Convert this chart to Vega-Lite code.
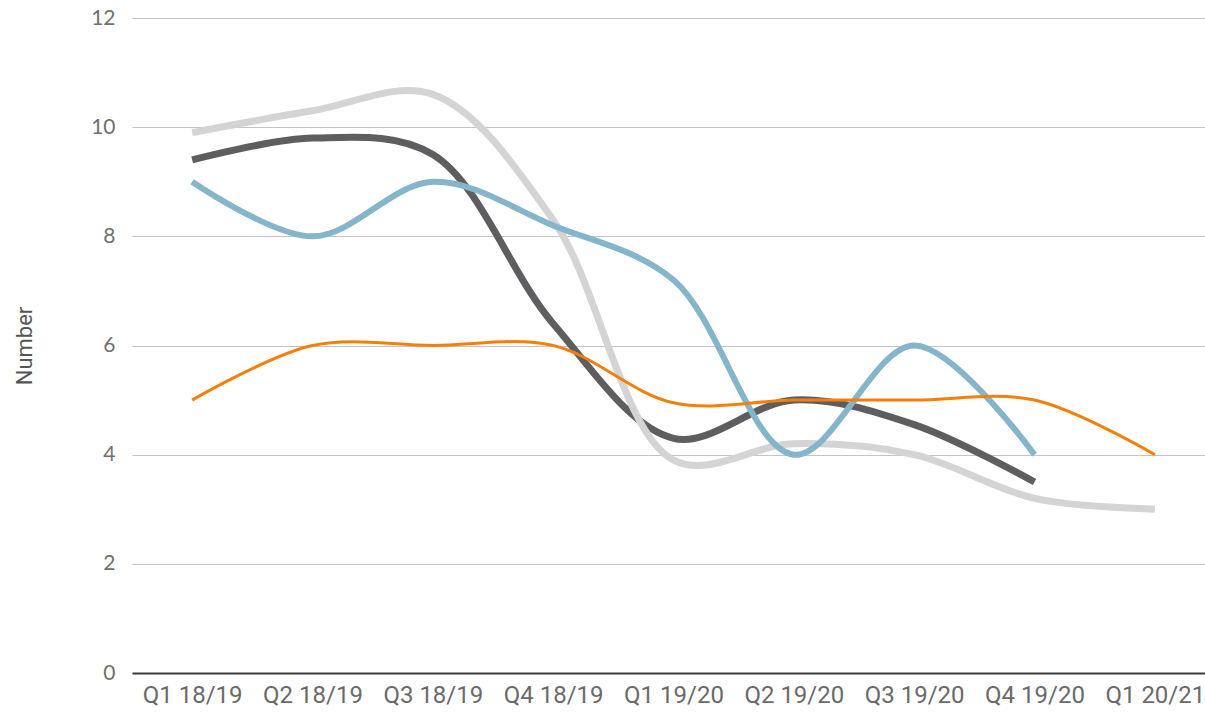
{
  "$schema": "https://vega.github.io/schema/vega-lite/v6.json",
  "autosize": "none",
  "padding": {"left": 132, "top": 18, "right": 0, "bottom": 46},
  "width": 1083,
  "height": 655,
  "background": "white",
  "config": {
    "view": {"stroke": null},
    "font": "Roboto"
  },
  "data": {
    "values": [
      {"quarter": "Q1 18/19", "series": "Series 1", "value": 9.4},
      {"quarter": "Q2 18/19", "series": "Series 1", "value": 9.8},
      {"quarter": "Q3 18/19", "series": "Series 1", "value": 9.5},
      {"quarter": "Q4 18/19", "series": "Series 1", "value": 6.4},
      {"quarter": "Q1 19/20", "series": "Series 1", "value": 4.3},
      {"quarter": "Q2 19/20", "series": "Series 1", "value": 5.0},
      {"quarter": "Q3 19/20", "series": "Series 1", "value": 4.55},
      {"quarter": "Q4 19/20", "series": "Series 1", "value": 3.5},

      {"quarter": "Q1 18/19", "series": "Series 2", "value": 9.9},
      {"quarter": "Q2 18/19", "series": "Series 2", "value": 10.3},
      {"quarter": "Q3 18/19", "series": "Series 2", "value": 10.6},
      {"quarter": "Q4 18/19", "series": "Series 2", "value": 8.3},
      {"quarter": "Q1 19/20", "series": "Series 2", "value": 3.9},
      {"quarter": "Q2 19/20", "series": "Series 2", "value": 4.2},
      {"quarter": "Q3 19/20", "series": "Series 2", "value": 4.0},
      {"quarter": "Q4 19/20", "series": "Series 2", "value": 3.2},
      {"quarter": "Q1 20/21", "series": "Series 2", "value": 3.0},

      {"quarter": "Q1 18/19", "series": "Series 3", "value": 9.0},
      {"quarter": "Q2 18/19", "series": "Series 3", "value": 8.0},
      {"quarter": "Q3 18/19", "series": "Series 3", "value": 9.0},
      {"quarter": "Q4 18/19", "series": "Series 3", "value": 8.2},
      {"quarter": "Q1 19/20", "series": "Series 3", "value": 7.2},
      {"quarter": "Q2 19/20", "series": "Series 3", "value": 4.0},
      {"quarter": "Q3 19/20", "series": "Series 3", "value": 6.0},
      {"quarter": "Q4 19/20", "series": "Series 3", "value": 4.0},

      {"quarter": "Q1 18/19", "series": "Series 4", "value": 5.0},
      {"quarter": "Q2 18/19", "series": "Series 4", "value": 6.0},
      {"quarter": "Q3 18/19", "series": "Series 4", "value": 6.0},
      {"quarter": "Q4 18/19", "series": "Series 4", "value": 6.0},
      {"quarter": "Q1 19/20", "series": "Series 4", "value": 4.95},
      {"quarter": "Q2 19/20", "series": "Series 4", "value": 5.0},
      {"quarter": "Q3 19/20", "series": "Series 4", "value": 5.0},
      {"quarter": "Q4 19/20", "series": "Series 4", "value": 5.0},
      {"quarter": "Q1 20/21", "series": "Series 4", "value": 4.0}
    ]
  },
  "encoding": {
    "x": {
      "field": "quarter",
      "type": "ordinal",
      "sort": null,
      "scale": {"type": "point", "padding": 0.5},
      "axis": {
        "title": null,
        "domain": true,
        "domainColor": "#3a3a3a",
        "domainWidth": 2,
        "ticks": false,
        "grid": false,
        "labelAngle": 0,
        "labelFontSize": 24,
        "labelColor": "#6a6a6a",
        "labelPadding": 10,
        "labelFont": "Roboto"
      }
    },
    "y": {
      "field": "value",
      "type": "quantitative",
      "scale": {"domain": [0, 12], "nice": false, "zero": true},
      "axis": {
        "title": "Number",
        "titleFontSize": 22,
        "titleFontWeight": "normal",
        "titleColor": "#555555",
        "titleFont": "Roboto",
        "titlePadding": 54,
        "values": [0, 2, 4, 6, 8, 10, 12],
        "domain": false,
        "ticks": false,
        "grid": true,
        "gridColor": "#c4c4c4",
        "gridWidth": 1,
        "labelFontSize": 21,
        "labelColor": "#707070",
        "labelPadding": 17,
        "labelFont": "Lato"
      }
    }
  },
  "layer": [
    {
      "transform": [{"filter": "datum.series === 'Series 1'"}],
      "mark": {"type": "line", "interpolate": "catmull-rom", "stroke": "#5e5e60", "strokeWidth": 7, "strokeCap": "butt"}
    },
    {
      "transform": [{"filter": "datum.series === 'Series 2'"}],
      "mark": {"type": "line", "interpolate": "catmull-rom", "stroke": "#d4d4d4", "strokeWidth": 7, "strokeCap": "butt"}
    },
    {
      "transform": [{"filter": "datum.series === 'Series 3'"}],
      "mark": {"type": "line", "interpolate": "catmull-rom", "stroke": "#84b5ca", "strokeWidth": 6, "strokeCap": "butt"}
    },
    {
      "transform": [{"filter": "datum.series === 'Series 4'"}],
      "mark": {"type": "line", "interpolate": "catmull-rom", "stroke": "#f57f0a", "strokeWidth": 3, "strokeCap": "butt"}
    }
  ]
}
